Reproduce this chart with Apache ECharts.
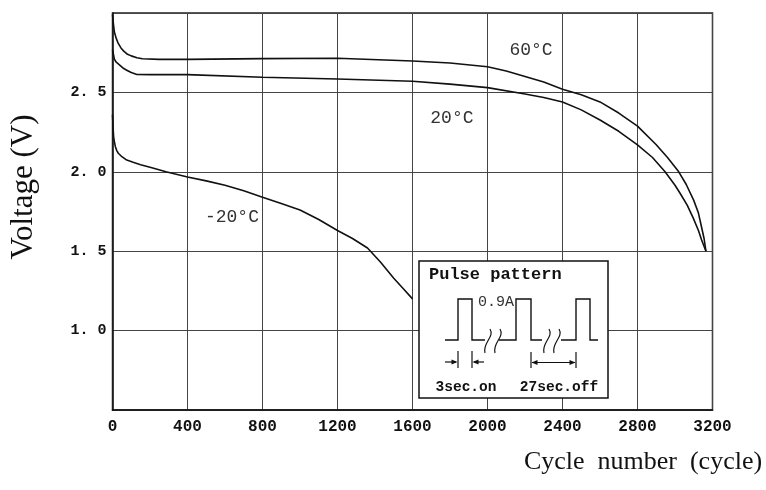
<!DOCTYPE html>
<html>
<head>
<meta charset="utf-8">
<script src="https://cdn.jsdelivr.net/npm/echarts@6/dist/echarts.min.js"></script>
<style>
html,body{margin:0;padding:0;background:#fff;}
#chart{width:766px;height:490px;}
</style>
</head>
<body>
<div id="chart"></div>
<script>
// ---- data ----
const cycles60 = [0, 5, 10, 20, 30, 45, 60, 80, 100, 130, 160, 250, 400, 800, 1200, 1600, 1800, 2000, 2100, 2200, 2300, 2400, 2500, 2600, 2700, 2800, 2900, 2960, 3020, 3060, 3100, 3125, 3140, 3155, 3165];
const volt60   = [2.99, 2.93, 2.88, 2.84, 2.81, 2.78, 2.76, 2.74, 2.73, 2.718, 2.712, 2.708, 2.708, 2.713, 2.715, 2.698, 2.685, 2.662, 2.635, 2.60, 2.565, 2.52, 2.485, 2.44, 2.37, 2.288, 2.17, 2.09, 2.0, 1.92, 1.82, 1.74, 1.66, 1.58, 1.50];

const cycles20 = [0, 5, 10, 20, 40, 60, 76, 100, 130, 200, 400, 800, 1200, 1600, 1800, 2000, 2200, 2300, 2400, 2500, 2600, 2700, 2800, 2880, 2947, 3000, 3027, 3065, 3098, 3125, 3142, 3165];
const volt20   = [2.767, 2.74, 2.71, 2.69, 2.67, 2.65, 2.64, 2.625, 2.613, 2.612, 2.612, 2.595, 2.584, 2.57, 2.552, 2.53, 2.49, 2.468, 2.44, 2.39, 2.326, 2.255, 2.169, 2.09, 2.0, 1.915, 1.865, 1.79, 1.707, 1.63, 1.57, 1.50];

const cyclesM20 = [0, 3, 6, 10, 15, 22, 31, 50, 76, 110, 150, 210, 285, 400, 500, 600, 700, 800, 900, 1000, 1100, 1200, 1280, 1360, 1430, 1500, 1550, 1600];
const voltM20   = [2.36, 2.28, 2.22, 2.19, 2.16, 2.135, 2.117, 2.095, 2.074, 2.06, 2.045, 2.025, 2.0, 1.967, 1.943, 1.915, 1.88, 1.84, 1.80, 1.76, 1.70, 1.63, 1.58, 1.52, 1.43, 1.33, 1.265, 1.20];

const xTickValues = [0, 400, 800, 1200, 1600, 2000, 2400, 2800, 3200];
const xTickLabels = ['0', '400', '800', '1200', '1600', '2000', '2400', '2800', '3200'];
const yTickValues = [0.5, 1.0, 1.5, 2.0, 2.5, 3.0];
const yTickLabels = ['', '1. 0', '1. 5', '2. 0', '2. 5', ''];

const curveNames = ['60°C', '20°C', '-20°C'];
const curveLabelPos = [[2232, 2.767], [1810, 2.335], [637, 1.715]];

const xTitle = 'Cycle  number  (cycle)';
const yTitle = 'Voltage (V)';
const insetTitle = 'Pulse pattern';
const insetCurrent = '0.9A';
const insetOn = '3sec.on';
const insetOff = '27sec.off';

// ---- chart ----
const chart = echarts.init(document.getElementById('chart'));
const pairs = (xs, ys) => xs.map((x, i) => [x, ys[i]]);
const lineStyle = { color: '#111', width: 1.6 };
const tempLabel = (i) => ({
  symbol: 'rect', symbolSize: 1, silent: true,
  itemStyle: { color: 'rgba(0,0,0,0)' },
  label: {
    show: true, position: 'inside', formatter: curveNames[i],
    fontFamily: 'Liberation Mono', fontSize: 18, color: '#333'
  },
  data: [{ coord: curveLabelPos[i] }]
});

const ink = '#111';
const stroke = { stroke: ink, lineWidth: 1.4, fill: null };
function squiggle(x) {
  return { type: 'bezierCurve', silent: true, z: 102,
    shape: { x1: x + 3, y1: 329, cpx1: x + 8, cpy1: 337, cpx2: x - 5, cpy2: 343, x2: x - 2, y2: 353 },
    style: { stroke: ink, lineWidth: 1.2, fill: null } };
}
function arrowHead(x, y, dir) { // dir = +1 pointing right, -1 pointing left
  return { type: 'polygon', silent: true, z: 102,
    shape: { points: [[x, y], [x - dir * 6, y - 2.5], [x - dir * 6, y + 2.5]] },
    style: { fill: ink } };
}

const option = {
  animation: false,
  backgroundColor: '#fff',
  grid: { left: 112.5, right: 53.5, top: 13, bottom: 80, show: true, borderColor: '#222', borderWidth: 1.5, backgroundColor: 'transparent' },
  xAxis: {
    type: 'value', min: 0, max: 3200, interval: 400,
    axisLine: { show: true, lineStyle: { color: '#111', width: 1.5 } },
    axisTick: { show: false },
    splitLine: { show: true, lineStyle: { color: '#444', width: 1 } },
    axisLabel: {
      margin: 9, fontFamily: 'Liberation Mono', fontWeight: 'bold', fontSize: 16, color: '#111',
      formatter: (v) => { const i = xTickValues.indexOf(v); return i >= 0 ? xTickLabels[i] : ''; }
    }
  },
  yAxis: {
    type: 'value', min: 0.5, max: 3.0, interval: 0.5,
    axisLine: { show: true, lineStyle: { color: '#111', width: 1.5 } },
    axisTick: { show: false },
    splitLine: { show: true, lineStyle: { color: '#444', width: 1 } },
    axisLabel: {
      margin: 6, fontFamily: 'Liberation Mono', fontWeight: 'bold', fontSize: 15, color: '#111',
      formatter: (v) => { const i = yTickValues.findIndex(t => Math.abs(t - v) < 1e-6); return i >= 0 ? yTickLabels[i] : ''; }
    }
  },
  series: [
    { name: curveNames[0], type: 'line', data: pairs(cycles60, volt60), showSymbol: false, smooth: false, lineStyle, markPoint: tempLabel(0) },
    { name: curveNames[1], type: 'line', data: pairs(cycles20, volt20), showSymbol: false, smooth: false, lineStyle, markPoint: tempLabel(1) },
    { name: curveNames[2], type: 'line', data: pairs(cyclesM20, voltM20), showSymbol: false, smooth: false, lineStyle, markPoint: tempLabel(2) }
  ],
  graphic: [
    { type: 'text', silent: true, x: 24, y: 187, rotation: Math.PI / 2,
      style: { text: yTitle, fontFamily: 'Liberation Serif', fontSize: 31, fill: '#111', align: 'center', verticalAlign: 'middle' } },
    { type: 'text', silent: true, x: 643, y: 462,
      style: { text: xTitle, fontFamily: 'Liberation Serif', fontSize: 26, fill: '#111', align: 'center', verticalAlign: 'middle' } },
    // inset box
    { type: 'rect', silent: true, z: 100, shape: { x: 419, y: 261, width: 189, height: 137 },
      style: { fill: '#fff', stroke: ink, lineWidth: 1.5 } },
    { type: 'text', silent: true, z: 102, x: 429, y: 275,
      style: { text: insetTitle, fontFamily: 'Liberation Mono', fontWeight: 'bold', fontSize: 17, fill: ink, align: 'left', verticalAlign: 'middle' } },
    { type: 'text', silent: true, z: 102, x: 496, y: 302,
      style: { text: insetCurrent, fontFamily: 'Liberation Mono', fontSize: 15, fill: '#333', align: 'center', verticalAlign: 'middle' } },
    { type: 'polyline', silent: true, z: 102, shape: { points: [[445,340],[458,340],[458,299],[472,299],[472,340],[485,340]] }, style: stroke },
    { type: 'polyline', silent: true, z: 102, shape: { points: [[499,340],[516,340],[516,299],[531,299],[531,340],[542,340]] }, style: stroke },
    { type: 'polyline', silent: true, z: 102, shape: { points: [[561,340],[576,340],[576,299],[590,299],[590,340],[598,340]] }, style: stroke },
    squiggle(487), squiggle(497), squiggle(546), squiggle(556),
    // 3sec.on markers
    { type: 'line', silent: true, z: 102, shape: { x1: 458, y1: 351, x2: 458, y2: 368 }, style: { stroke: ink, lineWidth: 1.2 } },
    { type: 'line', silent: true, z: 102, shape: { x1: 472, y1: 351, x2: 472, y2: 368 }, style: { stroke: ink, lineWidth: 1.2 } },
    { type: 'line', silent: true, z: 102, shape: { x1: 445, y1: 362, x2: 456, y2: 362 }, style: { stroke: ink, lineWidth: 1.2 } },
    { type: 'line', silent: true, z: 102, shape: { x1: 474, y1: 362, x2: 484, y2: 362 }, style: { stroke: ink, lineWidth: 1.2 } },
    arrowHead(457.5, 362, 1), arrowHead(472.5, 362, -1),
    // 27sec.off markers
    { type: 'line', silent: true, z: 102, shape: { x1: 531, y1: 352, x2: 531, y2: 368 }, style: { stroke: ink, lineWidth: 1.2 } },
    { type: 'line', silent: true, z: 102, shape: { x1: 576, y1: 352, x2: 576, y2: 368 }, style: { stroke: ink, lineWidth: 1.2 } },
    { type: 'line', silent: true, z: 102, shape: { x1: 532, y1: 362.5, x2: 575, y2: 362.5 }, style: { stroke: ink, lineWidth: 1.2 } },
    arrowHead(531.5, 362.5, -1), arrowHead(575.5, 362.5, 1),
    { type: 'text', silent: true, z: 102, x: 466, y: 387,
      style: { text: insetOn, fontFamily: 'Liberation Mono', fontWeight: 'bold', fontSize: 14.5, fill: ink, align: 'center', verticalAlign: 'middle' } },
    { type: 'text', silent: true, z: 102, x: 559, y: 387,
      style: { text: insetOff, fontFamily: 'Liberation Mono', fontWeight: 'bold', fontSize: 14.5, fill: ink, align: 'center', verticalAlign: 'middle' } }
  ]
};
chart.setOption(option);
</script>
</body>
</html>
